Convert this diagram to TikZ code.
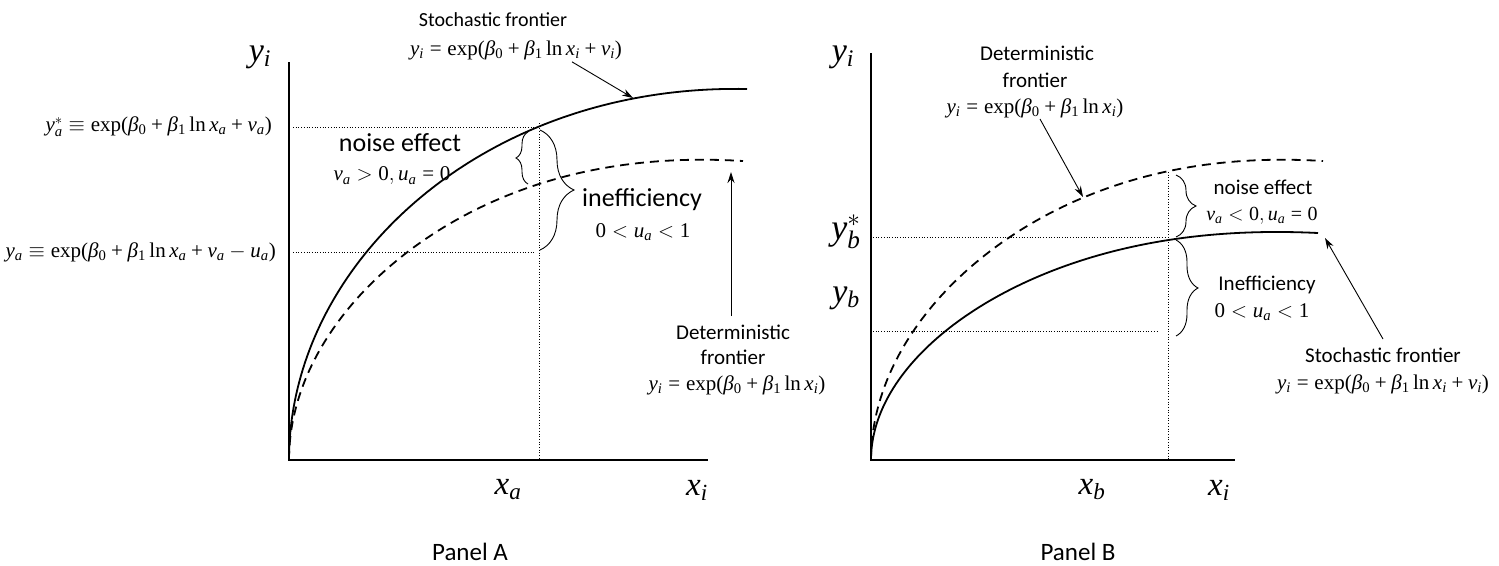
\RequirePackage{fix-cm}
\documentclass[tikz,border=0pt]{standalone}
\usepackage[no-math]{fontspec}
\setmainfont{Carlito}
\newfontfamily\tnr[NFSSFamily=tnr]{Liberation Serif}
\DeclareSymbolFont{tnrit}{TU}{tnr}{m}{it}
\SetSymbolFont{operators}{normal}{TU}{tnr}{m}{n}
\makeatletter
\count@=`a
\loop
  \Umathcode\count@=7 \symtnrit \count@
  \ifnum\count@<`z \advance\count@ by 1
\repeat
\makeatother
\Umathchardef\beta=0 \symtnrit "03B2
\usetikzlibrary{decorations.pathreplacing,arrows.meta,calc}
\begin{document}
\begin{tikzpicture}[x=1pt,y=-1pt,
  axisline/.style={line width=2pt},
  stochline/.style={line width=1.8pt},
  detline/.style={line width=1.8pt, dash pattern=on 9pt off 6pt},
  guide/.style={dotted, line width=0.7pt},
  pointer/.style={-{Stealth[length=11pt,width=7pt]}, line width=0.9pt},
  bracestyle/.style={decorate, decoration={brace, amplitude=#1}, line width=0.9pt},
  txt/.style={inner sep=0pt, font=\fontsize{#1}{#1}\selectfont},
  eq/.style={inner sep=0pt, font=\fontsize{#1}{#1}\selectfont}
]
\useasboundingbox (0,0) rectangle (1499,565);

% ---------------- Panel A ----------------
\coordinate (oA) at (289,460);
\coordinate (yA) at (289,62);
\coordinate (xA) at (708,460);
\draw[axisline] (yA) -- (oA) -- (xA);

\draw[stochline] plot[domain=0:90, samples=90, variable=\t]
  ({289+458*(1-cos(\t))},{460-371*sin(\t)-3*sin(180*(1-cos(\t)))});
\draw[detline] plot[domain=0:90, samples=90, variable=\t]
  ({289+454*(1-cos(\t))},{460-299*sin(\t)-9*sin(180*(1-cos(\t)))});

\coordinate (ysA) at (293,127);
\coordinate (ysAe) at (535,127);
\coordinate (yaA) at (293,252);
\coordinate (yaAe) at (535,252);
\coordinate (vtA) at (539,123);
\coordinate (vbA) at (539,460);
\draw[guide] (ysA) -- (ysAe);
\draw[guide] (yaA) -- (yaAe);
\draw[guide] (vtA) -- (vbA);

\draw[bracestyle=12pt] (528,184) -- (528,132);
\draw[bracestyle=34pt] (540,130) -- (540,250);

\node[eq=34] (yiA) at (260,57) {$y_i$};
\node[eq=21, anchor=east] (ystarA) at (272,127) {$y_a^*\equiv\exp(\beta_0+\beta_1\ln x_a+v_a)$};
\node[eq=21, anchor=east] (yaeqA) at (276,252) {$y_a\equiv\exp(\beta_0+\beta_1\ln x_a+v_a-u_a)$};
\node[txt=26] (noiseA) at (400,143) {noise effect};
\node[eq=21] (vaA) at (392,176) {$v_a>0,u_a=0$};
\node[txt=26] (ineffA) at (642,200) {inefficiency};
\node[eq=21] (uaA) at (643,232) {$0<u_a<1$};
\node[txt=20] (stochA) at (493,20) {Stochastic frontier};
\node[eq=21] (stocheqA) at (516,50) {$y_i=\exp(\beta_0+\beta_1\ln x_i+v_i)$};
\coordinate (stochtipA) at (633,98);
\draw[pointer] ($(stocheqA.south)+(56,2)$) -- (stochtipA);
\node[txt=21] (detA1) at (733,332) {Deterministic};
\node[txt=21] (detA2) at (733,357) {frontier};
\node[eq=21] (deteqA) at (737,385) {$y_i=\exp(\beta_0+\beta_1\ln x_i)$};
\coordinate (dettipA) at (731,172);
\draw[pointer] (731,316) -- (dettipA);
\node[eq=33] (xaA) at (508,490) {$x_a$};
\node[eq=33] (xiA) at (697,490) {$x_i$};
\node[txt=25] (panelA) at (470,552) {Panel A};

% ---------------- Panel B ----------------
\coordinate (oB) at (871,460);
\coordinate (yB) at (871,53);
\coordinate (xB) at (1235,460);
\draw[axisline] (yB) -- (oB) -- (xB);

\draw[detline] plot[domain=0:90, samples=90, variable=\t]
  ({871+452*(1-cos(\t))},{460-299*sin(\t)-9*sin(180*(1-cos(\t)))});
\draw[stochline] plot[domain=0:90, samples=90, variable=\t]
  ({871+447*(1-cos(\t))},{460-227*sin(\t)-7*sin(180*(1-cos(\t)))});

\coordinate (ysB) at (873,237);
\coordinate (ysBe) at (1165,237);
\coordinate (ybB) at (873,331);
\coordinate (ybBe) at (1158,331);
\coordinate (vtB) at (1168,172);
\coordinate (vbB) at (1168,460);
\draw[guide] (ysB) -- (ysBe);
\draw[guide] (ybB) -- (ybBe);
\draw[guide] (vtB) -- (vbB);

\draw[bracestyle=20pt] (1176,175) -- (1176,237);
\draw[bracestyle=22pt] (1176,240) -- (1176,336);

\node[eq=34] (yiB) at (843,57) {$y_i$};
\node[eq=36] (ybstar) at (846,232) {$y_b^*$};
\node[eq=34] (yblab) at (846,298) {$y_b$};
\node[txt=21] (detB1) at (1037,53) {Deterministic};
\node[txt=21] (detB2) at (1035,80) {frontier};
\node[eq=21] (deteqB) at (1035,108) {$y_i=\exp(\beta_0+\beta_1\ln x_i)$};
\coordinate (dettipB) at (1083,197);
\draw[pointer] (1040,119) -- (dettipB);
\node[txt=21] (noiseB) at (1263,187) {noise effect};
\node[eq=20] (vaB) at (1262,216) {$v_a<0,u_a=0$};
\node[txt=21] (ineffB) at (1267,285) {Inefficiency};
\node[eq=21] (uaB) at (1262,312) {$0<u_a<1$};
\node[txt=21] (stochB) at (1383,355) {Stochastic frontier};
\node[eq=21] (stocheqB) at (1383,384) {$y_i=\exp(\beta_0+\beta_1\ln x_i+v_i)$};
\coordinate (stochtipB) at (1325,238);
\draw[pointer] (1383,339) -- (stochtipB);
\node[eq=33] (xbB) at (1092,490) {$x_b$};
\node[eq=33] (xiB) at (1219,490) {$x_i$};
\node[txt=25] (panelB) at (1078,552) {Panel B};
\end{tikzpicture}
\end{document}
